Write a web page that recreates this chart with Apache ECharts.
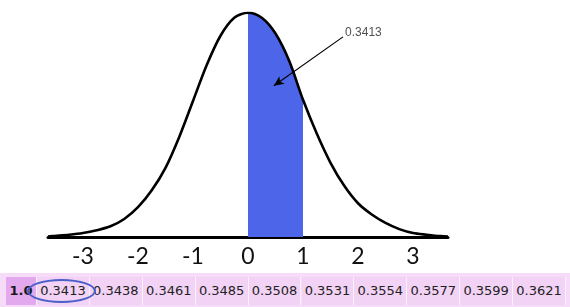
<!DOCTYPE html>
<html>
<head>
<meta charset="utf-8">
<script src="https://cdn.jsdelivr.net/npm/echarts@6/dist/echarts.min.js"></script>
<style>
  html, body { margin: 0; padding: 0; background: #ffffff; }
  #wrap { position: relative; width: 570px; height: 307px; overflow: hidden; }
  #chart { position: absolute; left: 0; top: 0; width: 570px; height: 307px; }
  #table { position: absolute; left: 0; top: 273px; width: 570px; height: 34px; background: #f6dcf8; }
  .cell { position: absolute; top: 4px; height: 28px; line-height: 28px; text-align: center;
          font-family: "DejaVu Sans", Verdana, sans-serif; font-size: 13px; color: #222;
          background: #f2d2f5; box-sizing: border-box; border-right: 1px solid #fbf0fc; }
  .head { background: #e3a9ef; font-weight: bold; color: #1a1a1a; }
  #ring { position: absolute; left: 27px; top: 279px; width: 69px; height: 24px; box-sizing: border-box;
          border: 2px solid #4b5fc9; border-radius: 50%; }
</style>
</head>
<body>
<div id="wrap">
  <div id="chart"></div>
  <div id="table"></div>
  <div id="ring"></div>
</div>
<script>
// Curve heights (z, density)
const curveZ = [-3.636, -3.5, -3.25, -3, -2.75, -2.5, -2.25, -2, -1.75, -1.5, -1.25, -1, -0.75, -0.5, -0.25,
                0, 0.25, 0.5, 0.75, 1, 1.25, 1.5, 1.75, 2, 2.25, 2.5, 2.75, 3, 3.25, 3.5, 3.636];
const curveH = [0.001, 0.002, 0.004, 0.007, 0.012, 0.019, 0.032, 0.053, 0.083, 0.123, 0.178, 0.242, 0.306, 0.358, 0.390,
                0.399, 0.390, 0.362, 0.313, 0.244, 0.184, 0.132, 0.091, 0.060, 0.040, 0.025, 0.014, 0.007, 0.004, 0.0015, 0.001];
const shadeFrom = 0, shadeTo = 1;
const tickValues = [-3, -2, -1, 0, 1, 2, 3];
const areaLabel = '0.3413';
const arrowStart = [1.727, 0.356];
const arrowEnd = [0.47, 0.269];
const labelPoint = [1.764, 0.364];
const rowHeader = '1.0';
const rowValues = ['0.3413', '0.3438', '0.3461', '0.3485', '0.3508', '0.3531', '0.3554', '0.3577', '0.3599', '0.3621'];

const curveData = curveZ.map((z, i) => [z, curveH[i]]);
const shadeData = curveData.filter(p => p[0] >= shadeFrom && p[0] <= shadeTo);

const chart = echarts.init(document.getElementById('chart'), null, { renderer: 'canvas' });
chart.setOption({
  animation: false,
  grid: { left: 48, right: 122, top: 12.7, bottom: 70 },
  xAxis: {
    type: 'value', min: -3.636, max: 3.636,
    splitLine: { show: false },
    axisTick: { show: false },
    axisLine: { show: true, onZero: false, lineStyle: { color: '#000', width: 3 } },
    axisLabel: {
      customValues: tickValues,
      margin: 8,
      fontFamily: 'Lato, "DejaVu Sans", sans-serif',
      fontSize: 23,
      color: '#111',
      formatter: v => String(v)
    }
  },
  yAxis: { type: 'value', min: 0, max: 0.399, show: false },
  series: [
    {
      type: 'line', data: shadeData, smooth: 0.3, symbol: 'none',
      lineStyle: { width: 0 },
      areaStyle: { color: '#4d66e9', opacity: 1 },
      z: 1
    },
    {
      type: 'line', data: curveData, smooth: 0.3, symbol: 'none',
      lineStyle: { color: '#000', width: 2.6 },
      z: 3,
      markLine: {
        silent: true,
        symbol: ['none', 'arrow'],
        symbolSize: [7, 10],
        lineStyle: { color: '#000', width: 1.2, type: 'solid' },
        label: { show: false },
        data: [[{ coord: arrowStart }, { coord: arrowEnd }]]
      }
    },
    {
      type: 'scatter', data: [labelPoint], symbolSize: 0,
      label: {
        show: true, position: 'right', distance: 0,
        formatter: areaLabel,
        fontFamily: '"Liberation Sans", Arial, sans-serif',
        fontSize: 12, color: '#222'
      },
      z: 4
    }
  ]
});

// Table row
const table = document.getElementById('table');
const headLeft = 6, headRight = 37, cellW = 52.9;
const h = document.createElement('div');
h.className = 'cell head';
h.style.left = headLeft + 'px';
h.style.width = (headRight - headLeft) + 'px';
h.textContent = rowHeader;
table.appendChild(h);
rowValues.forEach((v, i) => {
  const c = document.createElement('div');
  c.className = 'cell';
  c.style.left = (headRight + i * cellW) + 'px';
  c.style.width = cellW + 'px';
  c.textContent = v;
  table.appendChild(c);
});
</script>
</body>
</html>
